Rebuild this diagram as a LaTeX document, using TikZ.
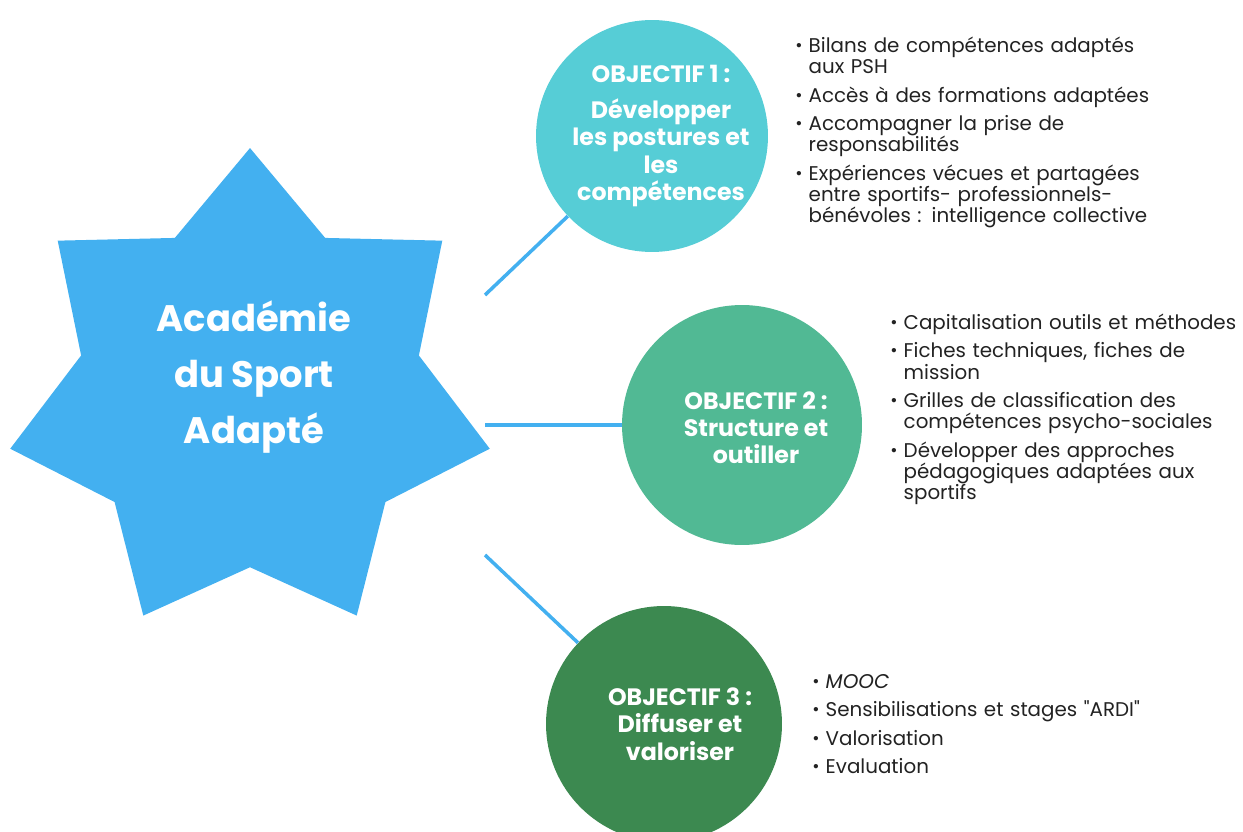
\documentclass[tikz,border=0pt]{standalone}
\usepackage{fontspec}
\setmainfont{Poppins}[Ligatures=TeXOff]
\usetikzlibrary{shapes.geometric}

\definecolor{starblue}{RGB}{67,176,240}
\definecolor{objone}{RGB}{86,205,214}
\definecolor{objtwo}{RGB}{81,185,148}
\definecolor{objthree}{RGB}{60,137,80}
\definecolor{listgray}{RGB}{34,34,34}

\newcommand{\puce}[1]{\par\leftskip=7.6pt\noindent
  \llap{\makebox[7.6pt][l]{\raisebox{0.05em}{\fontsize{10}{10}\selectfont\textbullet}}}#1\par}

\begin{document}
\begin{tikzpicture}[x=0.02cm, y=-0.02cm,
  hub/.style={star, star points=7, star point ratio=1.42, minimum size=9.84cm,
    inner sep=0pt, fill=starblue},
  hubtext/.style={text=white, align=center, font=\bfseries\fontsize{21}{32}\selectfont},
  objective/.style={circle, inner sep=0pt, minimum size=#1},
  objtext/.style={text=white, align=center, font=\bfseries\fontsize{13.5}{15.5}\selectfont},
  bullets/.style={text=listgray, text width=8cm, align=left, inner sep=0pt,
    font=\fontsize{11.3}{12}\selectfont,
    execute at begin node={\setlength{\parskip}{4.2pt}}},
  link/.style={draw=starblue, line width=2pt}]

  \useasboundingbox (0,0) rectangle (1243,831);

  \node[hub] (academie) at (250,394) {};
  \node[hubtext] (academie-text) at (254,377) {Académie\\du Sport\\Adapté};

  \node[objective=4.64cm, fill=objone] (obj1) at (652,136) {};
  \node[objective=4.8cm, fill=objtwo] (obj2) at (742,425) {};
  \node[objective=4.72cm, fill=objthree] (obj3) at (664,724) {};

  \node[objtext] (obj1-text) at (661,136) {OBJECTIF 1 :\\[5pt]Développer\\les postures et\\les\\compétences};
  \node[objtext] (obj2-text) at (756,428) {OBJECTIF 2 :\\Structure et\\outiller};
  \node[objtext] (obj3-text) at (680,724) {OBJECTIF 3 :\\Diffuser et\\valoriser};

  \coordinate (from1) at (485,295);
  \coordinate (from2) at (485,425);
  \coordinate (from3) at (485,555);
  \draw[link] (from1) -- (obj1);
  \draw[link] (from2) -- (obj2);
  \draw[link] (from3) -- (obj3);

  \node[bullets, anchor=base west] (list1) at (795,24) {%
    \puce{Bilans de compétences adaptés\\aux PSH}%
    \puce{Accès à des formations adaptées}%
    \puce{Accompagner la prise de\\responsabilités}%
    \puce{Expériences vécues et partagées\\entre sportifs- professionnels-\\bénévoles : intelligence collective}};

  \node[bullets, anchor=base west] (list2) at (890,301) {%
    \puce{Capitalisation outils et méthodes}%
    \puce{Fiches techniques, fiches de\\mission}%
    \puce{Grilles de classification des\\compétences psycho-sociales}%
    \puce{Développer des approches\\pédagogiques adaptées aux\\sportifs}};

  \node[bullets, anchor=base west] (list3) at (812,660) {%
    \puce{\textit{MOOC}}%
    \puce{Sensibilisations et stages "ARDI"}%
    \puce{Valorisation}%
    \puce{Evaluation}};
\end{tikzpicture}
\end{document}
